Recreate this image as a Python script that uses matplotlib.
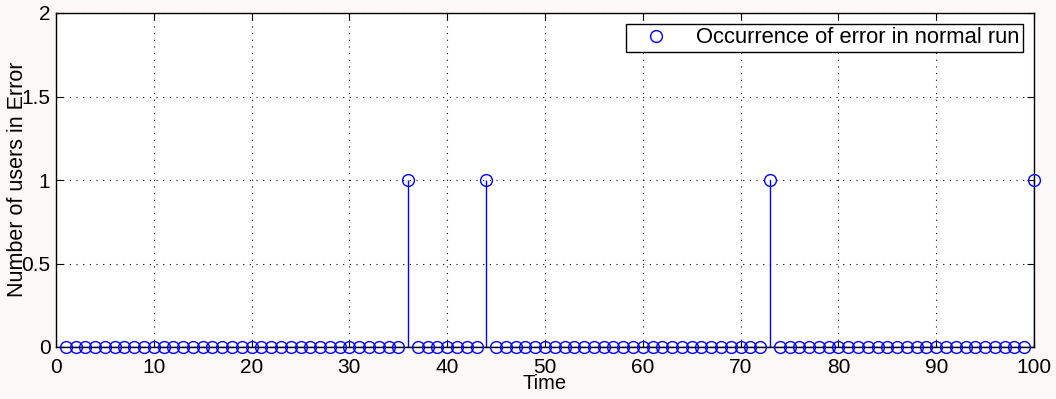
import matplotlib
matplotlib.use("Agg")
import matplotlib.pyplot as plt

# time steps and number of users in error at each step
time_steps = list(range(1, 101))
error_times = [36, 44, 73, 100]
users_in_error = [1 if t in error_times else 0 for t in time_steps]

x_ticks = [0, 10, 20, 30, 40, 50, 60, 70, 80, 90, 100]
y_ticks = [0, 0.5, 1, 1.5, 2]
y_tick_labels = ["0", "0.5", "1", "1.5", "2"]

plt.rcParams["font.family"] = ["Liberation Sans", "DejaVu Sans"]

fig = plt.figure(figsize=(10.56, 3.99), dpi=100, facecolor="#fcf8f7")
ax = fig.add_axes([56 / 1056, 1 - 347 / 399, (1034 - 56) / 1056, (347 - 13) / 399])

blue = "#0000ff"
ax.vlines(time_steps, 0, users_in_error, color=blue, linewidth=1.0, zorder=3)
ax.plot(time_steps, users_in_error, linestyle="none", marker="o", markersize=8.5,
        markerfacecolor="none", markeredgecolor=blue, markeredgewidth=1.0,
        clip_on=False, zorder=4, label="Occurrence of error in normal run")
ax.axhline(0, color="black", linewidth=1.0, zorder=2)

ax.set_xlim(0, 100)
ax.set_ylim(0, 2)
ax.set_xticks(x_ticks)
ax.set_yticks(y_ticks)
ax.set_yticklabels(y_tick_labels)
ax.tick_params(direction="in", top=True, right=True, labelsize=15, length=5)
ax.tick_params(axis="x", pad=8)
ax.tick_params(axis="y", pad=4)
ax.grid(True, color="black", linestyle=(0, (1, 5)), linewidth=0.8)
for spine in ax.spines.values():
    spine.set_linewidth(1.0)

ax.set_xlabel("Time", fontsize=14.5, labelpad=-2)
fig.text(18 / 1056, 1 - 179 / 399, "Number of users in Error", rotation=90,
         ha="center", va="center", fontsize=15.5)

leg = ax.legend(loc="upper right", bbox_to_anchor=(1 - 11 / 978, 1 - 11 / 334),
                borderaxespad=0, fontsize=15.8, fancybox=False, framealpha=1,
                edgecolor="black", handlelength=2.4, borderpad=0.15,
                handletextpad=0.65)
leg.get_frame().set_linewidth(1.0)

fig.savefig("out.png", dpi=100, facecolor=fig.get_facecolor())
